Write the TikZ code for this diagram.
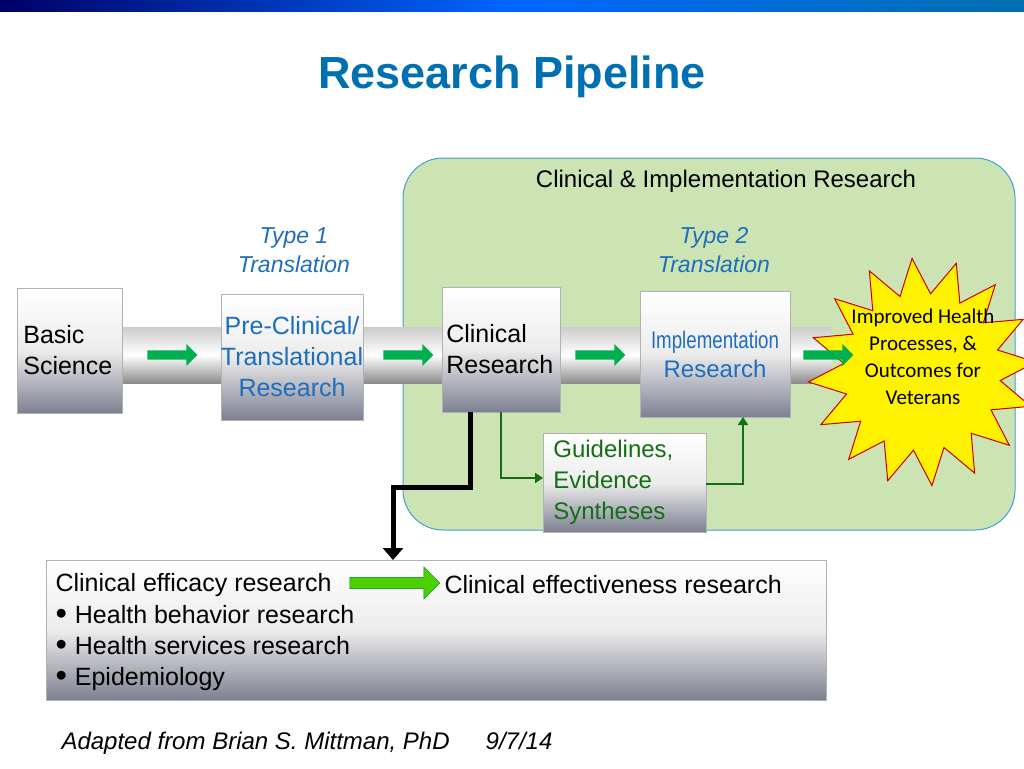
\documentclass[tikz,border=0pt]{standalone}
\usepackage{fontspec}
\setmainfont{Liberation Sans}
\newfontfamily\carl{Carlito}
\usetikzlibrary{shapes.geometric,shapes.arrows,arrows.meta}
\definecolor{tblue}{RGB}{0,112,176}
\definecolor{lblue}{RGB}{30,110,190}
\definecolor{gfill}{RGB}{204,228,180}
\definecolor{gborder}{RGB}{70,160,200}
\definecolor{dgreen}{RGB}{20,110,20}
\definecolor{agreen}{RGB}{0,176,80}
\definecolor{boxbot}{RGB}{125,128,145}
\newcommand{\bul}{\raisebox{-1pt}{\scalebox{1.3}{\textbullet}}\hspace{8pt}}
\begin{document}
\begin{tikzpicture}[x=1pt,y=-1pt,
 gbox/.style={draw=gray!60,top color=white,bottom color=boxbot,middle color=gray!15,inner sep=2pt},
 garrow/.style={single arrow,fill=agreen,draw=none,minimum height=50pt,minimum width=22pt,single arrow head extend=3pt,inner sep=2pt},
 txt/.style={font=\fontsize{25}{31}\selectfont,align=left},
 typ/.style={font=\fontsize{23}{29}\selectfont\itshape,text=lblue,align=center}]
\useasboundingbox (0,0) rectangle (1024,768);
\shade[left color=blue!40!black,right color=tblue,middle color=blue!60!cyan] (0,0) rectangle (1024,12);
\node (title) at (512,77) {\fontsize{45}{50}\selectfont\bfseries\color{tblue}Research Pipeline};
\draw[fill=gfill,draw=gborder,rounded corners=40pt,line width=1pt] (403,158) rectangle (1015,530);
\node[font=\fontsize{24}{28}\selectfont] (cir) at (726,181) {Clinical \& Implementation Research};
\shade[top color=gray!40,bottom color=gray!90,middle color=white] (120,327) rectangle (832,383);
\node[gbox,minimum width=105pt,minimum height=125pt] (bs) at (69.5,350.5) {};
\node[txt,anchor=west] at ([xshift=3pt]bs.west) {Basic\\Science};
\node[gbox,minimum width=142pt,minimum height=126pt] (pc) at (292,357) {};
\node[txt,text=lblue,align=center] at (pc) {Pre-Clinical/\\Translational\\Research};
\node[gbox,minimum width=118pt,minimum height=125pt] (cr) at (501,349.5) {};
\node[txt,anchor=west] at ([xshift=1pt]cr.west) {Clinical\\Research};
\node[gbox,minimum width=150pt,minimum height=126pt] (ir) at (715,354) {};
\node[font=\fontsize{24}{29}\selectfont,text=lblue,align=center] at (ir) {\addfontfeature{FakeStretch=0.78}Implementation\\Research};
\node[garrow] (a1) at (170,355) {};
\node[garrow] (a2) at (406,355) {};
\node[garrow] (a3) at (598,355) {};
\node[star,star points=16,star point ratio=1.45,minimum size=228pt,fill=yellow,draw=red!80!black,line width=1pt,rotate=5] (st) at (922,372) {};
\node[garrow] (a4) at (826,355) {};
\node[font=\carl\fontsize{21}{27}\selectfont,align=center] at (923,357) {Improved Health\\Processes, \&\\Outcomes for\\Veterans};
\node[typ] (t1) at (294,250) {Type 1\\Translation};
\node[typ] (t2) at (714,250) {Type 2\\Translation};
\node[gbox,minimum width=163pt,minimum height=99pt] (gl) at (624.5,482.5) {};
\node[txt,text=dgreen,anchor=west,font=\fontsize{24}{31}\selectfont] at ([xshift=7pt]gl.west) {Guidelines,\\Evidence\\Syntheses};
\coordinate (c1) at (501,412);
\coordinate (c2) at (543,478);
\coordinate (c3) at (706,484);
\coordinate (c4) at (743,417);
\draw[dgreen,line width=2.5pt,-{Triangle[length=8pt,width=10pt]}] (c1) |- (c2);
\draw[dgreen,line width=2.5pt,-{Triangle[length=8pt,width=10pt]}] (c3) -| (c4);
\node[gbox,minimum width=780pt,minimum height=140pt,anchor=north west] (bot) at (46,560) {};
\coordinate (k1) at (470,412);
\coordinate (k2) at (393,560);
\draw[black,line width=5pt,-{Triangle[length=12pt,width=20pt]}] (k1) |- (430,487) -| (k2);
\node[txt,anchor=west] (ce) at (52,585) {Clinical efficacy research};
\node[single arrow,fill=green!70!black!60!lime,draw=agreen!70!black,minimum height=90pt,minimum width=32pt,single arrow head extend=4pt,inner sep=2pt] (ba) at (392,583) {};
\node[txt,anchor=west] (cef) at (441,585) {Clinical effectiveness research};
\node[txt,anchor=north west,font=\fontsize{25}{31}\selectfont] at (52,602) {\bul Health behavior research\\\bul Health services research\\\bul Epidemiology};
\node[anchor=west,font=\fontsize{24}{28}\selectfont\itshape] (ft) at (58,743) {Adapted from Brian S. Mittman, PhD\hspace{36pt}9/7/14};
\end{tikzpicture}
\end{document}
